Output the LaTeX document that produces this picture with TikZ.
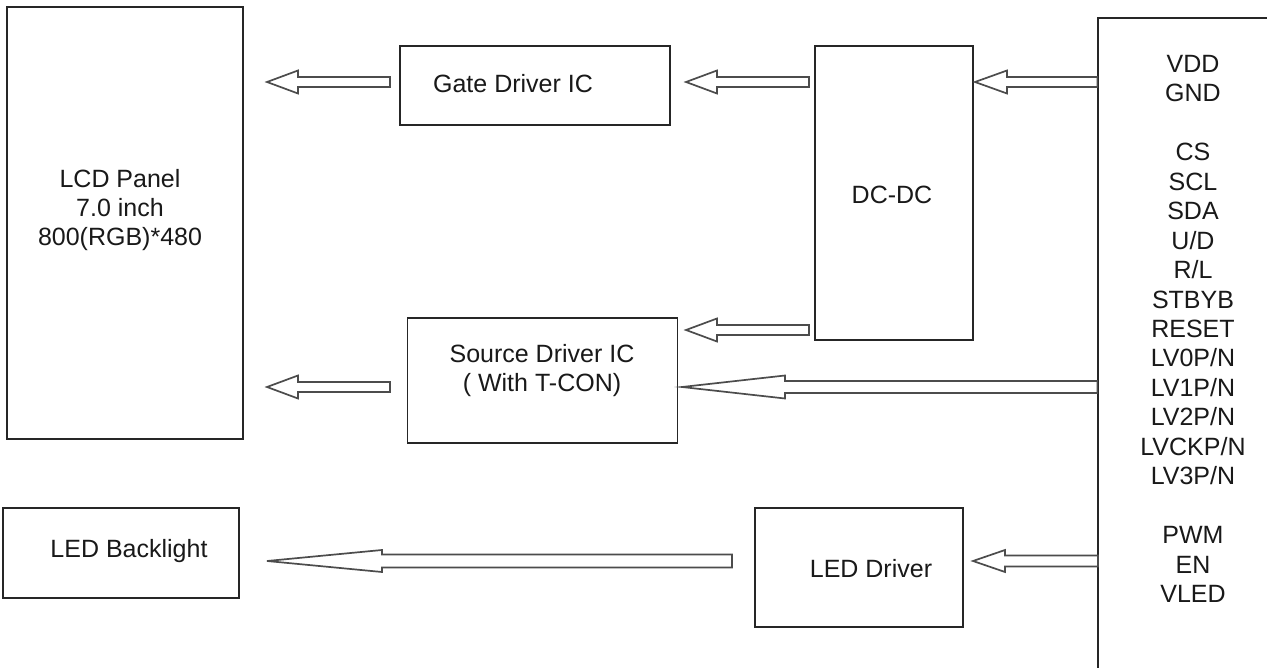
\documentclass[tikz,border=0pt]{standalone}
\usepackage{fontspec}
\setmainfont{Liberation Sans}
\usetikzlibrary{calc}
\tikzset{
  blk/.style={draw=black!85, line width=1.3pt, fill=white, rectangle, inner sep=0pt},
  lbl/.style={inner sep=0pt, align=center, font=\fontsize{25pt}{29pt}\selectfont, text=black!90},
  fatarr/.style={draw=black!70, line width=1.7pt, fill=white, line join=miter},
}
\newcommand{\fatarrow}[5]{\draw[fatarr] let \p1=(#1), \p2=(#2) in
  (\x1,\y1+#3pt) -- (\x2+#5pt,\y1+#3pt) -- (\x2+#5pt,\y1+#4pt) -- (\x2,\y2)
  -- (\x2+#5pt,\y1-#4pt) -- (\x2+#5pt,\y1-#3pt) -- (\x1,\y1-#3pt) -- cycle;}
\begin{document}
\begin{tikzpicture}[x=1pt,y=-1pt]
\useasboundingbox (0,0) rectangle (1267,668);
\clip (0,0) rectangle (1267,668);
\fill[white] (0,0) rectangle (1267,668);
% boxes
\node[blk, minimum width=236pt, minimum height=432pt] (lcd) at (125,223) {};
\node[blk, minimum width=270pt, minimum height=79pt] (gate) at (535,85.5) {};
\node[blk, minimum width=270pt, minimum height=125pt] (src) at (542.5,380.5) {};
\node[blk, minimum width=158pt, minimum height=294pt] (dcdc) at (894,193) {};
\node[blk, minimum width=236pt, minimum height=90pt] (bl) at (121,553) {};
\node[blk, minimum width=208pt, minimum height=119pt] (ledd) at (859,567.5) {};
\node[blk, minimum width=250pt, minimum height=700pt] (conn) at (1223,368) {};
% labels
\node[lbl, anchor=north] (lcdt) at (120,169) {LCD Panel\\7.0 inch\\800(RGB)*480};
\node[lbl, anchor=base] (gatet) at (513,93) {Gate Driver IC};
\node[lbl, anchor=north] (srct) at (542,344) {Source Driver IC\\( With T-CON)};
\node[lbl, anchor=base] (dcdct) at (892,204) {DC-DC};
\node[lbl, anchor=base] (blt) at (129,557) {LED Backlight};
\node[lbl, anchor=base] (leddt) at (871,577) {LED Driver};
\node[lbl, anchor=north, font=\fontsize{25pt}{29.45pt}\selectfont] (connt) at (1193,55) {VDD\\GND\\[29.45pt]CS\\SCL\\SDA\\U/D\\R/L\\STBYB\\RESET\\LV0P/N\\LV1P/N\\LV2P/N\\LVCKP/N\\LV3P/N\\[29.45pt]PWM\\EN\\VLED};
% arrow end points
\coordinate (a1s) at (390,82);  \coordinate (a1e) at (267,82);
\coordinate (a2s) at (390,387); \coordinate (a2e) at (267,387);
\coordinate (a3s) at (809,82);  \coordinate (a3e) at (686,82);
\coordinate (a4s) at (conn.west |- a1s); \coordinate (a4e) at (975,82);
\coordinate (a5s) at (809,330); \coordinate (a5e) at (686,330);
\coordinate (a6s) at (conn.west |- a2s); \coordinate (a6e) at (682,387);
\coordinate (a7s) at (732,561); \coordinate (a7e) at (267,561);
\coordinate (a8s) at (1098,561); \coordinate (a8e) at (973,561);
% arrows
\fatarrow{a1s}{a1e}{5}{11.5}{31}
\fatarrow{a2s}{a2e}{5}{11.5}{31}
\fatarrow{a3s}{a3e}{5}{11.5}{31}
\fatarrow{a4s}{a4e}{5}{11.5}{32}
\fatarrow{a5s}{a5e}{5}{11.5}{31}
\fatarrow{a6s}{a6e}{6}{11.5}{103}
\fatarrow{a7s}{a7e}{6.5}{11}{115}
\fatarrow{a8s}{a8e}{5.5}{11}{32}
\end{tikzpicture}
\end{document}
